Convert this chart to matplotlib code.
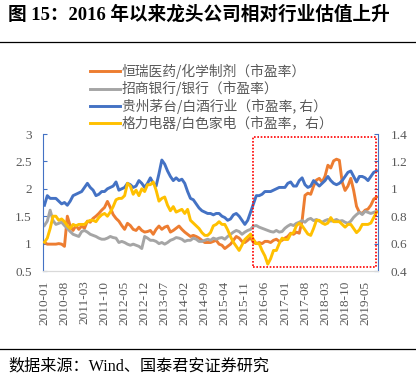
import numpy as np
import pandas as pd
import matplotlib
matplotlib.use('Agg')
import matplotlib.pyplot as plt
from matplotlib.patches import Rectangle
from matplotlib.ticker import FormatStrFormatter

plt.rcParams['font.family'] = ['Liberation Serif', 'Noto Sans CJK SC', 'DejaVu Sans']

# monthly data, 2010-01 .. 2019-09
months = pd.period_range('2010-01', periods=117, freq='M').strftime('%Y-%m').tolist()

hengrui = [1.02, 0.99, 0.99, 0.99, 0.99, 1.00, 0.99, 0.95, 1.50, 1.32,
           1.24, 1.33, 1.26, 1.32, 1.28, 1.41, 1.39, 1.46, 1.50, 1.55,
           1.61, 1.66, 1.77, 1.66, 1.53, 1.46, 1.41, 1.33, 1.26, 1.37,
           1.33, 1.26, 1.24, 1.30, 1.24, 1.21, 1.22, 1.24, 1.17, 1.26,
           1.32, 1.26, 1.30, 1.32, 1.21, 1.24, 1.28, 1.32, 1.26, 1.21,
           1.17, 1.13, 1.15, 1.13, 1.10, 1.06, 1.02, 1.02, 1.02, 1.04,
           1.06, 0.99, 0.97, 0.91, 0.95, 0.99, 1.06, 1.13, 1.10, 1.04,
           1.02, 1.06, 1.11, 1.02, 1.00, 1.02, 1.00, 1.04, 1.04, 1.02,
           1.06, 1.08, 1.04, 1.06, 1.10, 1.13, 1.19, 1.17, 1.21, 1.19,
           1.42, 1.88, 1.92, 1.90, 2.05, 2.16, 2.19, 2.12, 2.23, 2.43,
           2.38, 2.51, 2.54, 2.52, 2.12, 1.97, 2.05, 2.19, 1.97, 1.68,
           1.57, 1.55, 1.61, 1.63, 1.70, 1.81, 1.85]

cmb = [1.33, 1.41, 1.61, 1.42, 1.35, 1.37, 1.39, 1.33, 1.28, 1.22,
       1.17, 1.15, 1.13, 1.22, 1.24, 1.21, 1.17, 1.15, 1.13, 1.10,
       1.08, 1.08, 1.10, 1.13, 1.11, 1.10, 1.02, 1.04, 1.02, 0.99,
       0.97, 0.99, 0.97, 0.95, 0.91, 1.13, 1.10, 1.06, 1.06, 1.04,
       1.00, 1.02, 0.99, 1.02, 1.06, 1.08, 1.11, 1.10, 1.08, 1.04,
       1.06, 1.06, 1.10, 1.08, 1.04, 1.04, 1.06, 1.08, 1.06, 1.10,
       1.08, 1.10, 1.11, 1.08, 1.13, 1.17, 1.21, 1.24, 1.22, 1.17,
       1.21, 1.24, 1.26, 1.32, 1.33, 1.30, 1.28, 1.26, 1.24, 1.22,
       1.21, 1.24, 1.21, 1.22, 1.28, 1.32, 1.35, 1.33, 1.37, 1.39,
       1.42, 1.39, 1.44, 1.46, 1.42, 1.44, 1.41, 1.39, 1.42, 1.44,
       1.41, 1.42, 1.44, 1.41, 1.42, 1.39, 1.37, 1.41, 1.48, 1.53,
       1.57, 1.53, 1.59, 1.57, 1.55, 1.57, 1.59]

moutai = [0.88, 0.95, 0.93, 0.93, 0.93, 0.91, 0.89, 0.90, 0.88, 0.91,
          0.95, 0.96, 0.97, 0.98, 1.01, 1.04, 1.01, 0.99, 0.95, 0.96,
          0.98, 0.98, 1.00, 1.01, 1.02, 1.05, 0.99, 1.00, 1.01, 1.04,
          1.03, 1.01, 1.02, 1.06, 1.04, 1.01, 1.04, 1.08, 1.04, 1.02,
          1.11, 1.21, 1.18, 1.13, 1.09, 1.06, 1.08, 1.06, 1.07, 1.04,
          0.98, 0.93, 0.92, 0.89, 0.86, 0.84, 0.83, 0.82, 0.82, 0.81,
          0.82, 0.82, 0.80, 0.79, 0.77, 0.78, 0.81, 0.82, 0.80, 0.77,
          0.74, 0.77, 0.83, 0.89, 0.95, 0.95, 0.96, 0.98, 0.98, 0.98,
          0.99, 1.00, 1.01, 1.01, 1.01, 1.04, 1.05, 1.02, 1.02, 1.06,
          1.08, 1.03, 1.01, 1.02, 1.06, 1.04, 1.02, 1.04, 1.06, 1.09,
          1.06, 1.04, 1.03, 1.04, 1.06, 1.09, 1.12, 1.13, 1.09, 1.05,
          1.09, 1.09, 1.08, 1.06, 1.09, 1.12, 1.13]

gree = [0.61, 0.64, 0.71, 0.80, 0.80, 0.77, 0.78, 0.76, 0.73, 0.71,
        0.74, 0.73, 0.74, 0.74, 0.74, 0.76, 0.77, 0.77, 0.76, 0.79,
        0.81, 0.82, 0.80, 0.83, 0.87, 0.92, 0.93, 0.93, 0.95, 1.04,
        1.02, 0.96, 0.99, 0.95, 1.00, 0.98, 1.03, 1.03, 1.05, 0.99,
        0.91, 0.93, 0.94, 0.88, 0.84, 0.87, 0.83, 0.84, 0.85, 0.82,
        0.85, 0.77, 0.75, 0.73, 0.71, 0.68, 0.66, 0.66, 0.68, 0.73,
        0.74, 0.76, 0.74, 0.74, 0.70, 0.65, 0.61, 0.58, 0.55, 0.59,
        0.63, 0.65, 0.67, 0.63, 0.60, 0.60, 0.55, 0.51, 0.45, 0.49,
        0.55, 0.55, 0.60, 0.64, 0.63, 0.63, 0.67, 0.68, 0.73, 0.75,
        0.73, 0.70, 0.67, 0.66, 0.71, 0.77, 0.77, 0.75, 0.74, 0.75,
        0.79, 0.76, 0.76, 0.76, 0.74, 0.72, 0.74, 0.74, 0.71, 0.68,
        0.70, 0.74, 0.74, 0.74, 0.75, 0.79, 0.83]

labels = ['恒瑞医药/化学制剂（市盈率）', '招商银行/银行（市盈率）',
          '贵州茅台/白酒行业（市盈率, 右）', '格力电器/白色家电（市盈率，右）']
colors = ['#ED7D31', '#A5A5A5', '#4472C4', '#FFC000']

# highlighted period (2016 onward)
box_start, box_end = 72.7, 115.9
box_low, box_high = 0.43, 1.378

fig = plt.figure(figsize=(4.16, 3.76), dpi=100)
ax = fig.add_axes([43/416, 1-271/376, 335/416, 137/376])
ax2 = ax.twinx()

x = np.arange(len(months))
l1, = ax.plot(x, hengrui, color=colors[0], lw=2.1)
l2, = ax.plot(x, cmb, color=colors[1], lw=2.1)
l3, = ax2.plot(x, moutai, color=colors[2], lw=2.1)
l4, = ax2.plot(x, gree, color=colors[3], lw=2.1)

ax2.add_patch(Rectangle((box_start, box_low), box_end - box_start, box_high - box_low,
                        fill=False, ec='#FF0000', lw=1.2, ls=(0, (1, 1)), zorder=5))

ax.set_xlim(-0.5, len(months) - 0.5)
ax.set_ylim(0.5, 3)
ax2.set_ylim(0.4, 1.4)
ax.set_yticks(np.arange(0.5, 3.01, 0.5))
ax2.set_yticks(np.arange(0.4, 1.41, 0.2))
ax.yaxis.set_major_formatter(FormatStrFormatter('%g'))
ax2.yaxis.set_major_formatter(FormatStrFormatter('%g'))
ax.set_xticks(x[::7])
ax.set_xticklabels(months[::7], rotation=90)

tc = '#595959'
ax.tick_params(axis='x', length=0, pad=7, labelsize=9.5, labelcolor=tc)
ax.tick_params(axis='y', direction='in', length=3, color='#4472C4', pad=8,
               labelsize=9.5, labelcolor=tc)
ax2.tick_params(axis='y', direction='in', length=3, color='#4472C4', pad=9,
                labelsize=9.5, labelcolor=tc)

for a in (ax, ax2):
    a.spines['top'].set_visible(False)
    a.spines['left'].set_color('#4472C4')
    a.spines['right'].set_color('#4472C4')
    a.spines['bottom'].set_color('#D9D9D9')
ax.spines['right'].set_visible(False)
ax2.spines['left'].set_visible(False)

leg = fig.legend([l1, l2, l3, l4], labels, loc='upper left',
                 bbox_to_anchor=(90/416, 1-64/376), frameon=False,
                 prop={'family': ['Noto Sans CJK SC'], 'size': 9.9},
                 handlelength=2.2, handletextpad=0.1, labelspacing=0.15,
                 borderpad=0, borderaxespad=0)
for t in leg.get_texts():
    t.set_color(tc)

fig.text(8/416, 1-15/376, '图 15：2016 年以来龙头公司相对行业估值上升',
         fontsize=13.4, fontweight='bold', va='center', ha='left')
fig.add_artist(plt.Line2D([0, 1], [1-42/376, 1-42/376], color='black', lw=0.9))
fig.add_artist(plt.Line2D([0, 1], [1-349/376, 1-349/376], color='black', lw=0.9))
fig.text(8/416, 1-366/376, '数据来源：Wind、国泰君安证券研究',
         fontsize=11.6, va='center', ha='left')

fig.savefig('out.png', dpi=100)
